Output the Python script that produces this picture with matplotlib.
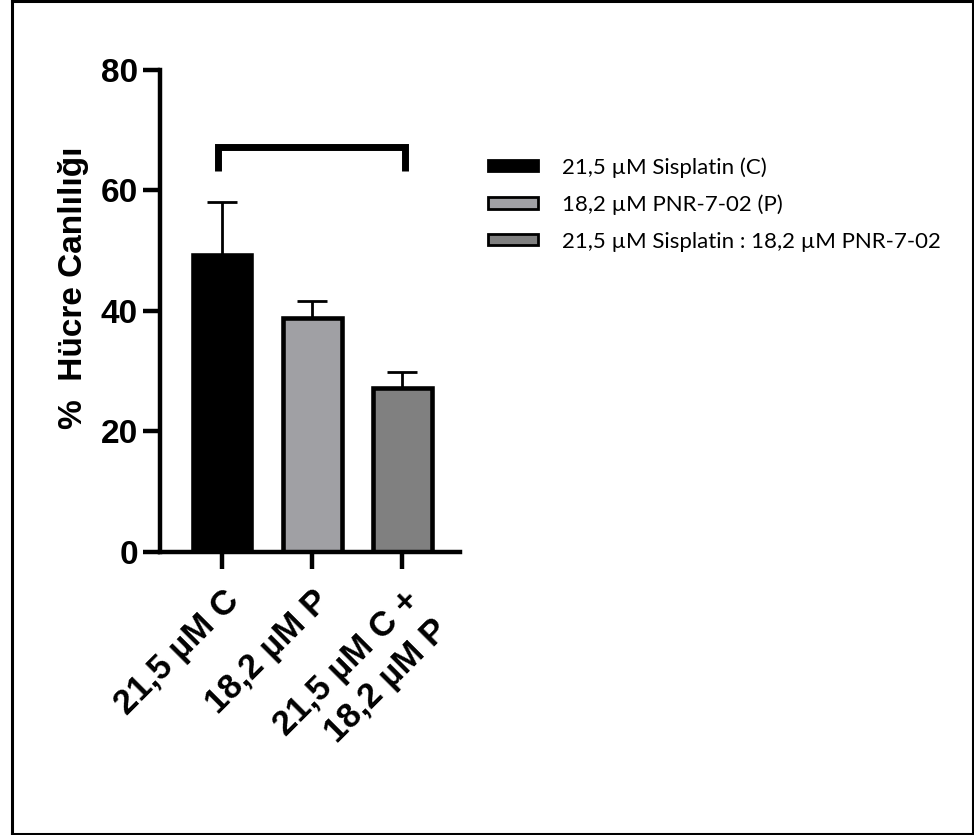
import numpy as np
import matplotlib
matplotlib.use("Agg")
import matplotlib.pyplot as plt
from matplotlib.patches import Patch
from matplotlib.lines import Line2D

# values
groups = ["21,5 \u00b5M C", "18,2 \u00b5M P", "21,5 \u00b5M C +\n18,2 \u00b5M P"]
means = [49.3, 38.8, 27.2]
errs = [8.7, 2.9, 2.6]
colors = ["#000000", "#a0a0a4", "#808080"]
legend_labels = ["21,5 \u00b5M Sisplatin (C)",
                 "18,2 \u00b5M PNR-7-02 (P)",
                 "21,5 \u00b5M Sisplatin : 18,2 \u00b5M PNR-7-02"]
bracket_y = 67.2
bracket_leg = 63.3

plt.rcParams['font.family'] = ['Liberation Sans', 'DejaVu Sans']

fig = plt.figure(figsize=(9.74, 8.35), dpi=100)
ax = fig.add_axes([0.1643, 0.3393, 0.308, 0.5769])

x = np.arange(len(means))
ax.bar(x, means, width=0.65, color=colors, edgecolor='black', linewidth=3.3, zorder=2)
ax.errorbar(x, means, yerr=[np.zeros(len(errs)), errs], fmt='none', ecolor='black',
            elinewidth=2, capsize=11, capthick=2, zorder=1)

# significance bracket between first and last bar
ax.plot([x[0] - 0.05, x[0] - 0.05, x[-1] + 0.03, x[-1] + 0.03],
        [bracket_leg, bracket_y, bracket_y, bracket_leg],
        color='black', lw=5, solid_joinstyle='miter', solid_capstyle='butt', clip_on=False)

ax.set_xlim(-0.69, 2.64)
ax.set_ylim(0, 80)
ax.set_yticks([0, 20, 40, 60, 80])
ax.set_xticks(x)
ax.set_xticklabels(groups, rotation=45, ha='right', va='top', rotation_mode='anchor',
                   multialignment='right', fontsize=25, fontweight='bold', linespacing=1.3)
for lab in ax.get_yticklabels():
    lab.set_fontweight('bold')
ax.tick_params(axis='y', labelsize=24, length=12.2, width=3.2, pad=3.6)
ax.tick_params(axis='x', length=12.2, width=3.2, pad=11)
for s in ['top', 'right']:
    ax.spines[s].set_visible(False)
for s in ['left', 'bottom']:
    ax.spines[s].set_linewidth(3.2)
ax.set_ylabel("%  H\u00fccre Canl\u0131l\u0131\u011f\u0131", fontsize=24, fontweight='bold')
ax.yaxis.set_label_coords(-0.238, 0.548)

handles = [Patch(facecolor=c, edgecolor='black', linewidth=2) for c in colors]
fig.legend(handles, legend_labels, loc='upper left', bbox_to_anchor=(0.501, 0.812),
           frameon=False, prop={'family': 'Lato', 'size': 16}, borderpad=0, borderaxespad=0,
           handlelength=2.25, handleheight=0.4, labelspacing=0.75, handletextpad=1.1)

# figure border (left, top, bottom, right)
W, H = 974, 835
for xs, ys in [([11.5, 11.5], [0, H]), ([11.5, W], [1, 1]), ([11.5, W], [833.5, 833.5]),
               ([973, 973], [0, H])]:
    fig.add_artist(Line2D([v / W for v in xs], [1 - v / H for v in ys],
                          transform=fig.transFigure, color='black', lw=2.2))

fig.savefig("out.png", dpi=100)
